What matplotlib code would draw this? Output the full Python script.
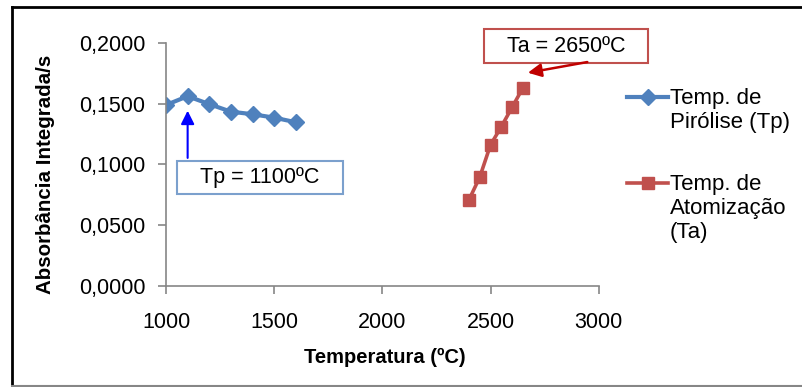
import matplotlib.pyplot as plt
from matplotlib.lines import Line2D
from matplotlib.patches import Rectangle

plt.rcParams['font.family'] = ['Liberation Sans', 'DejaVu Sans']

# Temperatura de pirólise
tp_temp = [1000, 1100, 1200, 1300, 1400, 1500, 1600]
tp_abs = [0.1488, 0.1560, 0.1495, 0.1433, 0.1412, 0.1384, 0.1346]

# Temperatura de atomização
ta_temp = [2400, 2450, 2500, 2550, 2600, 2650]
ta_abs = [0.0707, 0.0894, 0.1160, 0.1310, 0.1470, 0.1630]

yticks = [0, 0.05, 0.10, 0.15, 0.20]
ytick_labels = ['0,0000', '0,0500', '0,1000', '0,1500', '0,2000']
xticks = [1000, 1500, 2000, 2500, 3000]

blue = '#4F81BD'
red = '#C0504D'
grey = '#868686'

W, H = 802, 387
fig = plt.figure(figsize=(W / 100, H / 100), dpi=100)
ax = fig.add_axes([166 / W, 1 - 286 / H, (598.7 - 166) / W, (286 - 42.7) / H])

ax.plot(tp_temp, tp_abs, color=blue, lw=3, marker='D', ms=8.5)
ax.plot(ta_temp, ta_abs, color=red, lw=2.6, marker='s', ms=9)

ax.set_xlim(1000, 3000)
ax.set_ylim(0, 0.2)
ax.set_xticks(xticks)
ax.set_xticklabels([str(t) for t in xticks])
ax.set_yticks(yticks)
ax.set_yticklabels(ytick_labels)
ax.tick_params(direction='out', length=6, width=1.2, color=grey,
               labelsize=15.5, labelcolor='black')
ax.tick_params(axis='x', pad=13)
ax.tick_params(axis='y', pad=9)
for s in ['top', 'right']:
    ax.spines[s].set_visible(False)
for s in ['left', 'bottom']:
    ax.spines[s].set_color(grey)
    ax.spines[s].set_linewidth(1.2)

fig.text(385 / W, 1 - 357 / H, 'Temperatura (ºC)', fontsize=14.5,
         fontweight='bold', ha='center', va='center')
fig.text(46 / W, 1 - 174.5 / H, 'Absorbância Integrada/s', fontsize=14.8,
         fontweight='bold', ha='center', va='center', rotation=90)

# anotações
ax.annotate('', xy=(1100, 0.1464), xytext=(1100, 0.1030),
            arrowprops=dict(arrowstyle='-|>', color='#0000FF', lw=1.5,
                            mutation_scale=20))
ax.add_patch(Rectangle((1051, 0.0757), 1818 - 1051, 0.1028 - 0.0757,
                       fc='white', ec='#7BA0CD', lw=1.5, clip_on=False))
ax.text(1435, 0.0892, 'Tp = 1100ºC', fontsize=15.5, ha='center', va='center')

ax.annotate('', xy=(2660, 0.1749), xytext=(2960, 0.1845),
            arrowprops=dict(arrowstyle='-|>', color='#C00000', lw=1.8,
                            mutation_scale=20), annotation_clip=False)
ax.add_patch(Rectangle((2470, 0.1831), 3228 - 2470, 0.2111 - 0.1831,
                       fc='white', ec=red, lw=1.5, clip_on=False))
ax.text(2849, 0.1971, 'Ta = 2650ºC', fontsize=15.5, ha='center', va='center',
        clip_on=False)

# legenda
legend_items = [(blue, 'D', 8.5, 3, 97, 'Temp. de\nPirólise (Tp)'),
                (red, 's', 9, 2.6, 183, 'Temp. de\nAtomização\n(Ta)')]
for col, mk, ms, lw, ypix, lab in legend_items:
    yf = 1 - ypix / H
    fig.add_artist(Line2D([627 / W, 668 / W], [yf, yf], color=col, lw=lw))
    fig.add_artist(Line2D([647.5 / W], [yf], color=col, marker=mk, ms=ms, lw=0))
    fig.text(670 / W, yf + 9 / H, lab, fontsize=16, ha='left', va='top',
             linespacing=1.2)

# moldura
fig.add_artist(Line2D([12 / W, 12 / W], [0, 1 - 7 / H], color='black', lw=2))
fig.add_artist(Line2D([12 / W, 1], [1 - 7 / H, 1 - 7 / H], color='black', lw=2))
fig.add_artist(Line2D([12 / W, 1], [1 - 386 / H, 1 - 386 / H], color=grey, lw=1.5))

fig.savefig('out.png', dpi=100)
